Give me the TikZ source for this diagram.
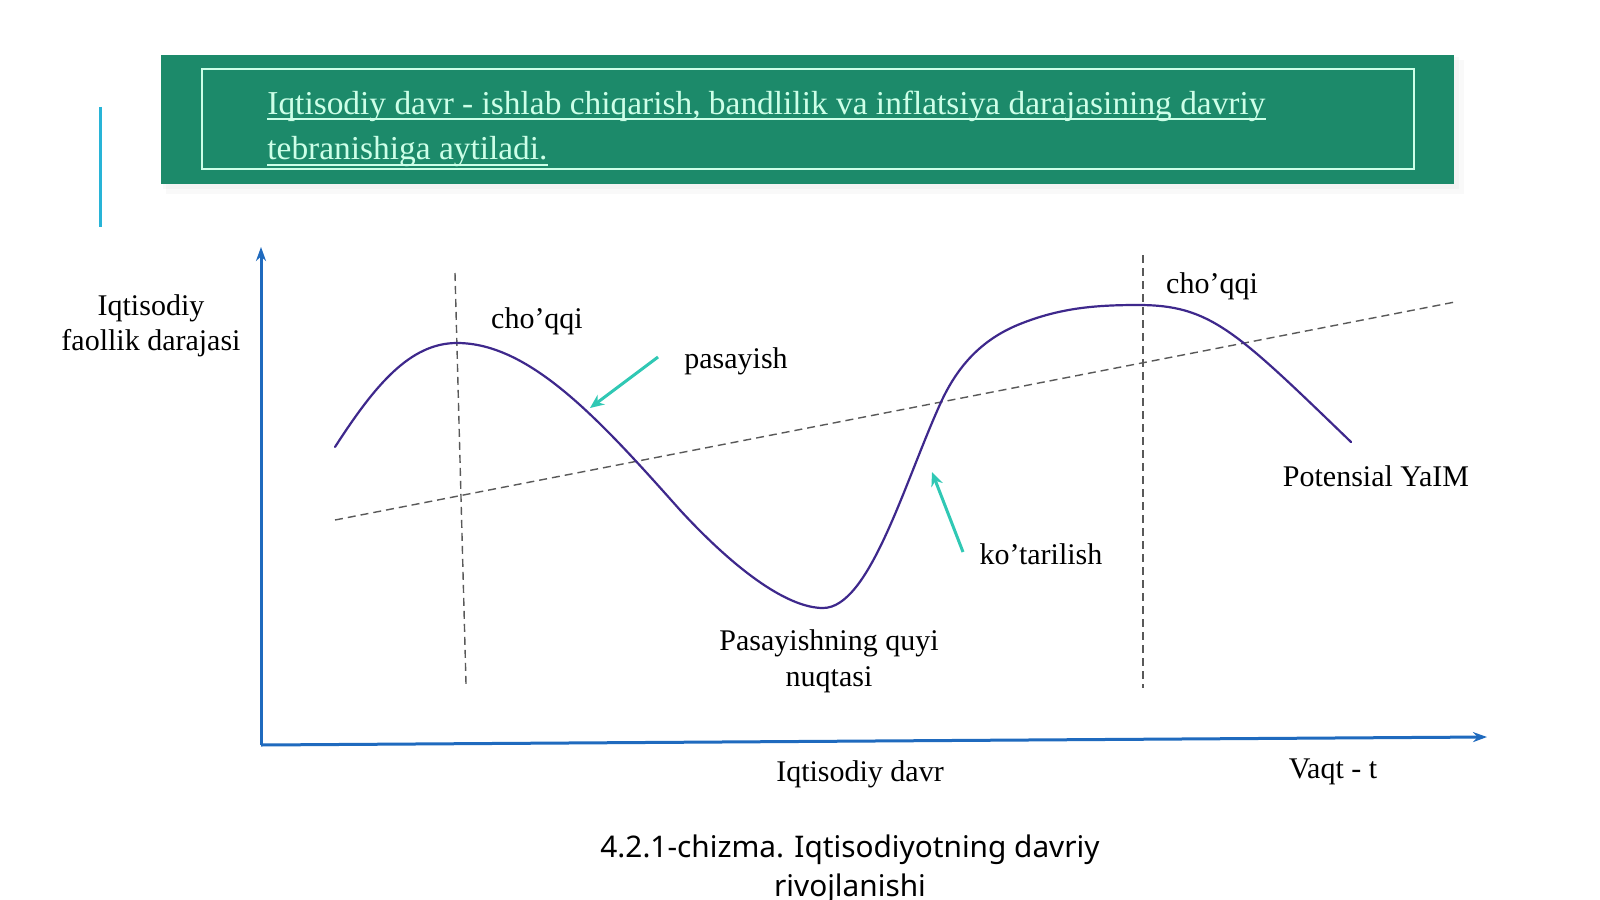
\documentclass[tikz,border=0pt]{standalone}
\usepackage{fontspec}
\setmainfont{Liberation Serif}
\newfontfamily\headfont{Liberation Serif}
\newfontfamily\capfont{Noto Sans}
\usetikzlibrary{arrows.meta}
\definecolor{headgreen}{RGB}{28,138,106}
\definecolor{headline}{RGB}{205,255,232}
\definecolor{axisblue}{RGB}{31,106,190}
\definecolor{curvepurple}{RGB}{62,40,140}
\definecolor{arrowcyan}{RGB}{48,200,180}
\definecolor{barcyan}{RGB}{40,180,215}
\begin{document}
\begin{tikzpicture}[x=0.5pt,y=-0.5pt,
  lbl/.style={font=\fontsize{15}{17.5}\selectfont, inner sep=0pt, align=center},
  headtext/.style={font=\headfont\fontsize{16.7}{20}\selectfont, text=headline, inner sep=0pt, anchor=base west},
  axisline/.style={draw=axisblue, line width=1.5pt, -{Stealth[length=7pt,width=5pt]}},
  guide/.style={draw=black!65, line width=0.7pt, dash pattern=on 4pt off 2.5pt},
  hint/.style={draw=arrowcyan, line width=1.5pt, -{Stealth[length=7pt,width=6pt]}}]
\useasboundingbox (0,0) rectangle (1600,899);
\fill[white] (0,0) rectangle (1600,899);

% header
\fill[black, opacity=0.025] (166,60) rectangle (1464,194);
\fill[black, opacity=0.025] (163,57) rectangle (1459,189);
\fill[headgreen] (161,55) rectangle (1454,184);
\draw[headline, line width=0.8pt] (202,69) rectangle (1414,169);
\node[headtext] (def1) at (267,114) {Iqtisodiy davr - ishlab chiqarish, bandlilik va inflatsiya darajasining davriy};
\node[headtext] (def2) at (267,160) {tebranishiga aytiladi.};
\draw[headline, line width=0.8pt] ([yshift=-2.5pt]def1.base west) -- ([yshift=-2.5pt]def1.base east);
\draw[headline, line width=0.8pt] ([yshift=-2.5pt]def2.base west) -- ([yshift=-2.5pt]def2.base east);
\draw[barcyan, line width=1.5pt] (100,107) -- (100,227);

% axes
\coordinate (O) at (261,745);
\coordinate (ytop) at (261,247);
\coordinate (xend) at (1487,737);
\draw[axisline] (O) -- (ytop);
\draw[axisline] (O) -- (xend);

% guides
\draw[guide] (455,273) -- (466,684);
\draw[guide] (1143,255) -- (1143,688);
\draw[guide] (335,520) -- (1455,302);

% cycle
\draw[curvepurple, line width=1.1pt, line cap=round]
  (335,447) .. controls (375,385) and (410,343) .. (457,343)
  .. controls (530,343) and (600,420) .. (680,510)
  .. controls (740,575) and (790,608) .. (823,608)
  .. controls (870,608) and (905,480) .. (942,400)
  .. controls (960,362) and (985,338) .. (1020,324)
  .. controls (1060,308) and (1095,305) .. (1138,305)
  .. controls (1210,305) and (1235,330) .. (1351,442);

% hints
\coordinate (fallA) at (658,357);
\coordinate (fallB) at (590,408);
\coordinate (riseA) at (963,552);
\coordinate (riseB) at (932,472);
\draw[hint] (fallA) -- (fallB);
\draw[hint] (riseA) -- (riseB);

% labels
\node[lbl] (ylab) at (151,326) {Iqtisodiy\\faollik darajasi};
\node[lbl] (peak1) at (537,321) {cho’qqi};
\node[lbl] (fall) at (736,361) {pasayish};
\node[lbl] (peak2) at (1212,286) {cho’qqi};
\node[lbl] (pot) at (1376,476) {Potensial YaIM};
\node[lbl] (rise) at (1041,554) {ko’tarilish};
\node[lbl, font=\fontsize{15}{18}\selectfont] (trough) at (829,661) {Pasayishning quyi\\nuqtasi};
\node[lbl] (xlab) at (860,774) {Iqtisodiy davr};
\node[lbl] (tlab) at (1333,772) {Vaqt - t};
\node[lbl, font=\capfont\fontsize{14.9}{19.5}\selectfont] (cap) at (850,869) {4.2.1-chizma. Iqtisodiyotning davriy\\rivojlanishi};
\end{tikzpicture}
\end{document}
